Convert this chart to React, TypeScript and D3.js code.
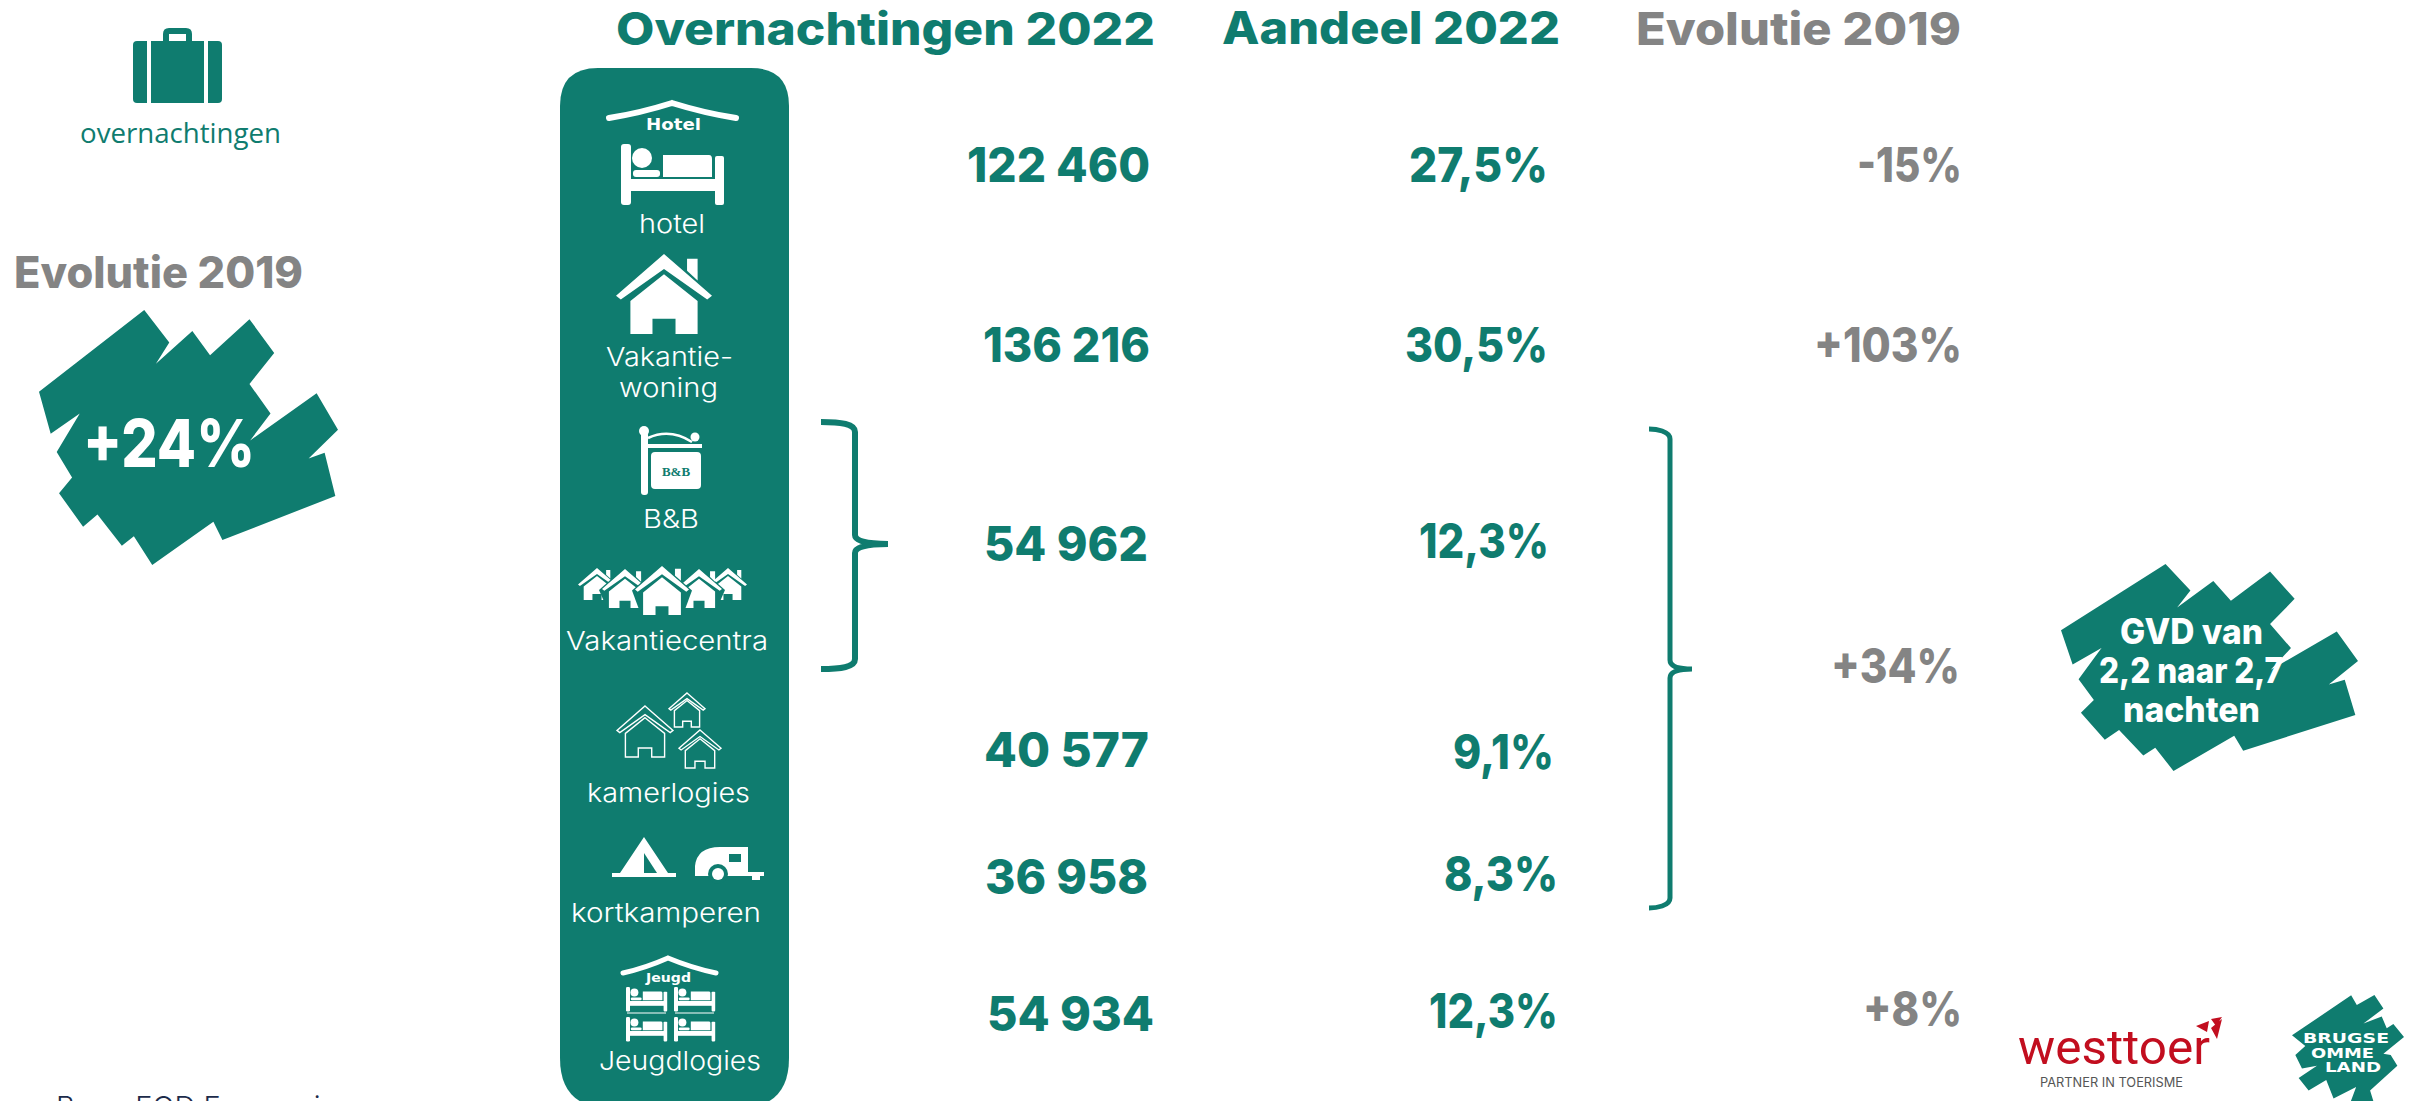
import React, { useEffect } from 'react';
import * as d3 from 'd3';

const W = 2412;
const H = 1101;
const TEAL = '#0f7c6f';
const GREY = '#848484';
const RED = '#c20e1f';
const HEAD = 'Inter, "Open Sans", sans-serif';

// values
const accommodations = ['hotel', 'vakantiewoning', 'b&b', 'kamerlogies', 'kortkamperen', 'jeugdlogies'];
const overnights = [122460, 136216, 54962, 40577, 36958, 54934];
const shares = [27.5, 30.5, 12.3, 9.1, 8.3, 12.3];
const evolutionLabels = ['-15%', '+103%', '+34%', '+8%'];
const columnTitles = ['Overnachtingen 2022', 'Aandeel 2022', 'Evolutie 2019'];
const gvdLines = ['GVD van', '2,2 naar 2,7', 'nachten'];

// where the text sits: [left, right, baseline]
const overnightSpots = [[967, 1150, 182], [983, 1150, 362], [984, 1148, 561], [984, 1149, 767], [985, 1148, 894], [987, 1154, 1031]];
const shareSpots = [[1409, 1548, 182], [1405, 1548, 362], [1419, 1549, 558], [1453, 1554, 769], [1444, 1558, 891], [1429, 1558, 1028]];
const evolutionSpots = [[1857, 1962, 182], [1814, 1962, 362], [1831, 1960, 683], [1863, 1962, 1026]];
const titleSpots = [[616, 1155, 45], [1222, 1560, 44], [1636, 1961, 45]];
const gvdSpots = [[2120, 2263, 644], [2099, 2283, 683], [2123, 2260, 722]];
const panelLabels: [string, number, number, number][] = [
  ['hotel', 639, 705, 233],
  ['Vakantie-', 606, 733, 366],
  ['woning', 619, 718, 397],
  ['B&B', 643, 699, 528],
  ['Vakantiecentra', 566, 768, 650],
  ['kamerlogies', 587, 750, 802],
  ['kortkamperen', 571, 761, 922],
  ['Jeugdlogies', 599, 761, 1070],
];

const splatShape: [number, number][] = [
  [433, 810], [508, 895], [468, 950], [577, 865], [630, 928], [748, 834], [822, 922], [748, 1003], [811, 1080], [750, 1150],
  [949, 1027], [1013, 1122], [925, 1197], [973, 1182], [1005, 1295], [667, 1410], [640, 1362], [457, 1475], [402, 1400],
  [366, 1425], [293, 1343], [250, 1375], [178, 1288], [217, 1247], [171, 1180], [240, 1080], [153, 1133], [118, 1023],
];
const logoShape: [number, number][] = [
  [1053, 1273], [1070, 1300], [1123, 1272], [1150, 1310], [1090, 1352], [1145, 1332], [1160, 1365], [1180, 1353], [1212, 1390],
  [1150, 1437], [1172, 1440], [1192, 1470], [1110, 1540], [1130, 1600], [1040, 1600], [1068, 1530], [1000, 1562], [978, 1510],
  [925, 1540], [895, 1505], [950, 1470], [905, 1478], [885, 1440], [915, 1415], [875, 1385],
];

const locale = d3.formatLocale({ decimal: ',', thousands: ' ', grouping: [3], currency: ['', ''] });
const fmtCount = locale.format(',d');
const fmtShare = locale.format('.1f');

const outline = d3.line().curve(d3.curveLinearClosed);

const Fit = ({ spot, size, weight = 700, fill = TEAL, font = HEAD, children }: any) => (
  <text x={spot[0]} y={spot[2]} textLength={spot[1] - spot[0]} lengthAdjust="spacingAndGlyphs"
    fontFamily={font} fontSize={size} fontWeight={weight} fill={fill}>{children}</text>
);

const Splat = ({ xr, yr }: { xr: number[]; yr: number[] }) => {
  const x = d3.scaleLinear().domain([118, 1013]).range(xr);
  const y = d3.scaleLinear().domain([810, 1475]).range(yr);
  return <path d={outline(splatShape.map(([a, b]) => [x(a), y(b)])) as string} fill={TEAL} />;
};

const Brace = ({ x0, vx, tip, top, mid, bottom, sw }: any) => {
  const p = d3.path();
  p.moveTo(x0, top);
  p.bezierCurveTo(vx - 14, top, vx, top + 2, vx, top + 10);
  p.lineTo(vx, mid - 9);
  p.quadraticCurveTo(vx, mid, tip, mid);
  p.moveTo(tip, mid);
  p.quadraticCurveTo(vx, mid, vx, mid + 9);
  p.lineTo(vx, bottom - 10);
  p.bezierCurveTo(vx, bottom - 2, vx - 14, bottom, x0, bottom);
  return <path d={p.toString()} fill="none" stroke={TEAL} strokeWidth={sw} />;
};

// bed drawn in its own 103x61 box
const Bed = ({ x, y, k }: { x: number; y: number; k: number }) => (
  <g transform={`translate(${x},${y}) scale(${k})`} fill="#fff">
    <rect x={0} y={0} width={10} height={61} rx={3} />
    <rect x={94} y={12} width={9} height={49} rx={2} />
    <rect x={9} y={35} width={86} height={12} />
    <circle cx={21} cy={14} r={10} />
    <rect x={12} y={26} width={27} height={7} rx={3} />
    <path d="M42 11 H88 Q91 11 91 15 V33 H42 Z" />
  </g>
);

// house with chevron roof, apex at (cx, top)
const House = ({ cx, top, hw, bottom, line = false, ring = false }: any) => {
  const wall = hw * 0.7;
  const roofY = top + hw * 0.87;
  const chevron = [
    [cx, top], [cx + hw, roofY], [cx + hw * 0.9, roofY + hw * 0.08], [cx, top + hw * 0.31],
    [cx - hw * 0.9, roofY + hw * 0.08], [cx - hw, roofY],
  ] as [number, number][];
  const doorW = hw * 0.24;
  const doorH = hw * 0.32;
  const body = [
    [cx, top + hw * 0.42], [cx + wall, top + hw * 0.98], [cx + wall, bottom], [cx + doorW, bottom],
    [cx + doorW, bottom - doorH], [cx - doorW, bottom - doorH], [cx - doorW, bottom], [cx - wall, bottom], [cx - wall, top + hw * 0.98],
  ] as [number, number][];
  if (line) {
    return (
      <g fill="none" stroke="#fff" strokeWidth={1.4}>
        <path d={outline(chevron) as string} />
        <path d={outline(body) as string} />
      </g>
    );
  }
  return (
    <g fill="#fff">
      {ring && <path d={outline([[cx, top - 2], [cx + hw + 3, roofY + 1], [cx + wall + 2, bottom], [cx - wall - 2, bottom], [cx - hw - 3, roofY + 1]]) as string} fill={TEAL} />}
      <path d={outline([[cx + hw * 0.48, top + hw * 0.1], [cx + wall, top + hw * 0.1], [cx + wall, top + hw * 0.55], [cx + hw * 0.48, top + hw * 0.35]]) as string} />
      <path d={outline(chevron) as string} />
      <path d={outline(body) as string} />
    </g>
  );
};

const Roof = ({ x0, x1, apex, y, sw }: any) => (
  <path d={`M${x0} ${y} Q${(x0 + apex) / 2} ${y - 5} ${apex} ${y - 15} Q${(x1 + apex) / 2} ${y - 5} ${x1} ${y}`}
    fill="none" stroke="#fff" strokeWidth={sw} strokeLinecap="round" />
);

const Panel = () => (
  <g>
    <path d="M560 106 Q560 68 598 68 H751 Q789 68 789 106 V1058 Q789 1108 739 1108 H610 Q560 1108 560 1058 Z" fill={TEAL} />

    {/* hotel */}
    <Roof x0={609} x1={736} apex={672} y={118} sw={6} />
    <text x={646} y={130} textLength={55} lengthAdjust="spacingAndGlyphs" fontFamily="DejaVu Sans" fontWeight={700} fontSize={16} fill="#fff">Hotel</text>
    <Bed x={621} y={144} k={1} />

    {/* vakantiewoning */}
    <House cx={664} top={254} hw={48} bottom={334} />

    {/* b&b sign */}
    <g fill="#fff">
      <rect x={641} y={432} width={7} height={63} rx={3} />
      <circle cx={644} cy={431} r={5} />
      <circle cx={695} cy={437} r={4.5} />
      <rect x={646} y={444} width={56} height={4} />
      <rect x={651} y={452} width={50} height={37} rx={4} />
      <path d="M648 438 Q670 428 692 442" fill="none" stroke="#fff" strokeWidth={2.5} />
      <text x={676} y={476} textAnchor="middle" fontFamily="Liberation Serif" fontWeight={700} fontSize={13} fill={TEAL}>B&amp;B</text>
    </g>

    {/* vakantiecentra */}
    <House cx={597} top={568} hw={19} bottom={600} />
    <House cx={728} top={568} hw={19} bottom={600} />
    <House cx={625} top={569} hw={23} bottom={608} ring />
    <House cx={699} top={569} hw={23} bottom={608} ring />
    <House cx={662} top={566} hw={27} bottom={615} ring />

    {/* kamerlogies */}
    <House cx={645} top={706} hw={28} bottom={757} line />
    <House cx={687} top={693} hw={18} bottom={727} line />
    <House cx={700} top={730} hw={21} bottom={768} line />

    {/* tent and caravan */}
    <g fill="#fff">
      <path d="M644 837 L668 873 H676 V877 H612 V873 H620 Z" />
      <path d="M644 853 L657 873 H644 Z" fill={TEAL} />
      <path d="M695 876 V866 Q697 847 720 847 H748 V872 H764 V876 H760 V880 H752 V876 Z" />
      <rect x={729} y={854} width={12} height={8} fill={TEAL} />
      <circle cx={718} cy={874} r={10} fill={TEAL} />
      <circle cx={718} cy={874} r={6} />
    </g>

    {/* jeugdlogies */}
    <Roof x0={623} x1={716} apex={668} y={973} sw={5} />
    <text x={646} y={982} textLength={45} lengthAdjust="spacingAndGlyphs" fontFamily="DejaVu Sans" fontWeight={700} fontSize={12} fill="#fff">Jeugd</text>
    <Bed x={626} y={987} k={0.4} />
    <Bed x={674} y={987} k={0.4} />
    <Bed x={626} y={1017} k={0.4} />
    <Bed x={674} y={1017} k={0.4} />
    <path d="M627 1013 H666 M675 1013 H714" stroke="#fff" strokeWidth={1} />

    {panelLabels.map(([label, x0, x1, y]) => (
      <Fit key={label} spot={[x0, x1, y]} size={26} weight={300} fill="#fff">{label}</Fit>
    ))}
  </g>
);

const Suitcase = () => (
  <g fill={TEAL}>
    <path d="M163 41 V34 Q163 28 169 28 H186 Q192 28 192 34 V41 H186 V34 H169 V41 Z" />
    <path d="M137 41 H147 V103 H137 Q133 103 133 99 V45 Q133 41 137 41 Z" />
    <rect x={151} y={41} width={53} height={62} />
    <path d="M208 41 H218 Q222 41 222 45 V99 Q222 103 218 103 H208 Z" />
  </g>
);

const Westtoer = () => (
  <g>
    <Fit spot={[2018, 2210, 1064]} size={48} weight={400} fill={RED} font="Roboto">westtoer</Fit>
    <Fit spot={[2040, 2183, 1087]} size={13} weight={400} fill="#555" font="Inter">PARTNER IN TOERISME</Fit>
    <path d="M2196 1026 L2209 1021 L2207 1032 Z M2211 1019 L2222 1017 L2216 1026 Z M2222 1019 L2217 1039 L2211 1028 Z" fill={RED} />
  </g>
);

const BrugseLogo = () => {
  const x = d3.scaleLinear().domain([875, 1212]).range([2292, 2404]);
  const y = d3.scaleLinear().domain([1272, 1600]).range([995, 1112]);
  return (
    <g>
      <path d={outline(logoShape.map(([a, b]) => [x(a), y(b)])) as string} fill={TEAL} />
      <Fit spot={[2303, 2389, 1043]} size={14} weight={800} fill="#fff" font="DejaVu Sans">BRUGSE</Fit>
      <Fit spot={[2311, 2374, 1058]} size={14} weight={800} fill="#fff" font="DejaVu Sans">OMME</Fit>
      <Fit spot={[2325, 2381, 1072]} size={14} weight={800} fill="#fff" font="DejaVu Sans">LAND</Fit>
    </g>
  );
};

const App = () => {
  useEffect(() => {
    document.body.style.margin = '0';
    document.body.style.overflow = 'hidden';
  }, []);

  return (
    <svg width={W} height={H} viewBox={`0 0 ${W} ${H}`} style={{ display: 'block', background: '#fff' }}>
      <Suitcase />
      <Fit spot={[80, 281, 143]} size={28} weight={400} font="Open Sans">overnachtingen</Fit>
      <Fit spot={[14, 303, 288]} size={44} weight={800} fill={GREY}>Evolutie 2019</Fit>
      <Splat xr={[39, 338]} yr={[310, 565]} />
      <Fit spot={[83, 255, 467]} size={66} weight={800} fill="#fff">+24%</Fit>

      <Panel />

      {columnTitles.map((t, i) => (
        <Fit key={t} spot={titleSpots[i]} size={45} weight={800} fill={i === 2 ? GREY : TEAL}>{t}</Fit>
      ))}
      {accommodations.map((a, i) => (
        <g key={a}>
          <Fit spot={overnightSpots[i]} size={48} weight={800}>{fmtCount(overnights[i])}</Fit>
          <Fit spot={shareSpots[i]} size={48} weight={800}>{fmtShare(shares[i]) + '%'}</Fit>
        </g>
      ))}
      {evolutionLabels.map((t, i) => (
        <Fit key={t} spot={evolutionSpots[i]} size={48} weight={800} fill={GREY}>{t}</Fit>
      ))}

      <Brace x0={821} vx={855} tip={888} top={422} mid={544} bottom={669} sw={6} />
      <Brace x0={1649} vx={1670} tip={1692} top={429} mid={669} bottom={908} sw={5} />

      <Splat xr={[2061, 2358]} yr={[564, 771]} />
      {gvdLines.map((t, i) => (
        <Fit key={t} spot={gvdSpots[i]} size={35} weight={800} fill="#fff">{t}</Fit>
      ))}

      <Westtoer />
      <BrugseLogo />
      <text x={56} y={1117} fontFamily="Inter" fontWeight={300} fontSize={29} fill="#1c2b4a">Bron: FOD Economie</text>
    </svg>
  );
};

export default App;
